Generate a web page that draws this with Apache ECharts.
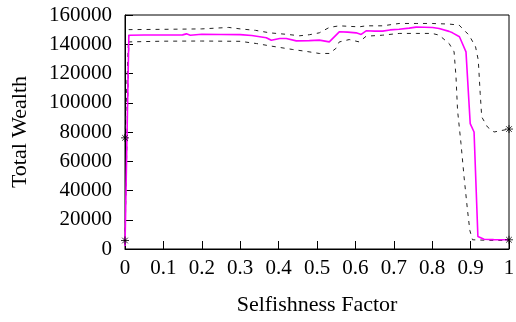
<!DOCTYPE html>
<html>
<head>
<meta charset="utf-8">
<script src="https://cdn.jsdelivr.net/npm/echarts@6/dist/echarts.min.js"></script>
<style>
  html, body { margin: 0; padding: 0; background: #fff; }
  #chart { width: 516px; height: 322px; }
</style>
</head>
<body>
<div id="chart"></div>
<script>
// mean total wealth (magenta)
const meanX = [0, 0.01, 0.05, 0.1, 0.15, 0.16, 0.17, 0.2, 0.25, 0.3, 0.33, 0.368, 0.381, 0.403, 0.42, 0.446, 0.48, 0.506, 0.532, 0.558, 0.58, 0.602, 0.615, 0.628, 0.65, 0.671, 0.69, 0.714, 0.74, 0.758, 0.78, 0.801, 0.818, 0.844, 0.853, 0.871, 0.888, 0.899, 0.909, 0.919, 0.935, 0.96, 1]
const meanY = [2000, 146200, 146300, 146300, 146400, 147100, 146200, 146800, 146700, 146600, 146000, 144500, 142700, 143900, 143900, 142300, 142500, 142800, 141600, 148500, 148300, 147800, 146700, 149200, 149000, 149000, 149800, 150300, 151000, 151700, 151600, 151500, 150800, 148800, 147800, 145100, 134800, 85700, 80000, 8600, 6700, 6400, 6300]

// upper dashed bound
const upperX = [0, 0.01, 0.1, 0.2, 0.27, 0.3, 0.34, 0.377, 0.42, 0.455, 0.48, 0.506, 0.532, 0.558, 0.58, 0.61, 0.628, 0.671, 0.714, 0.76, 0.80, 0.844, 0.87, 0.896, 0.913, 0.92, 0.925, 0.929, 0.944, 0.961, 1]
const upperY = [76000, 150000, 150200, 150500, 151500, 150500, 149500, 147800, 146800, 145800, 146500, 147800, 151500, 152600, 152300, 151900, 152600, 152600, 154200, 154200, 154200, 153800, 153100, 146200, 138200, 129100, 106300, 90300, 83400, 80000, 82000]

// lower dashed bound
const lowerX = [0, 0.01, 0.1, 0.2, 0.3, 0.342, 0.377, 0.437, 0.47, 0.506, 0.532, 0.549, 0.558, 0.584, 0.61, 0.628, 0.671, 0.714, 0.76, 0.80, 0.818, 0.844, 0.857, 0.862, 0.866, 0.875, 0.883, 0.892, 0.898, 0.905, 0.95, 1]
const lowerY = [5800, 141600, 142100, 142200, 142000, 140500, 138900, 136400, 135200, 133700, 133700, 137100, 141600, 143200, 141600, 145500, 146200, 147400, 147400, 147400, 146200, 140500, 134800, 117700, 94900, 72000, 49200, 26400, 12700, 6300, 5900, 5800]

// end point markers
const starX = [0, 0, 1, 1]
const starY = [76000, 5800, 82000, 6300]

const yTicks = [0, 20000, 40000, 60000, 80000, 100000, 120000, 140000, 160000]

const pairs = (xs, ys) => xs.map((x, i) => [x, ys[i]])

const chart = echarts.init(document.getElementById("chart"), null, { renderer: "canvas" })

const serif = "Liberation Serif"
const dashStyle = { color: "#222", width: 1, type: [4, 5] }

const option = {
  animation: false,
  grid: {
    left: 125,
    right: 7,
    top: 15,
    bottom: 73,
    containLabel: false,
    outerBoundsMode: "none",
    show: true,
    borderColor: "#000",
    borderWidth: 1,
  },
  xAxis: {
    type: "value",
    min: 0,
    max: 1,
    interval: 0.1,
    name: "Selfishness Factor",
    nameLocation: "middle",
    nameGap: 45,
    nameTextStyle: { fontFamily: serif, fontSize: 22, color: "#000" },
    axisLine: { show: true, lineStyle: { color: "#000" } },
    axisTick: { inside: true, length: 8, lineStyle: { color: "#000" } },
    axisLabel: {
      fontFamily: serif,
      fontSize: 21,
      color: "#000",
      margin: 9,
      formatter: (v) => String(Math.round(v * 10) / 10),
    },
    splitLine: { show: false },
  },
  yAxis: {
    type: "value",
    min: yTicks[0],
    max: yTicks[yTicks.length - 1],
    interval: 20000,
    name: "Total Wealth",
    nameLocation: "middle",
    nameGap: 94,
    nameTextStyle: { fontFamily: serif, fontSize: 22, color: "#000" },
    axisLine: { show: true, lineStyle: { color: "#000" } },
    axisTick: { inside: true, length: 8, lineStyle: { color: "#000" } },
    axisLabel: {
      fontFamily: serif,
      fontSize: 21,
      color: "#000",
      margin: 13,
      formatter: (v) => String(v),
    },
    splitLine: { show: false },
  },
  series: [
    {
      name: "upper",
      type: "line",
      data: pairs(upperX, upperY),
      symbol: "none",
      lineStyle: dashStyle,
    },
    {
      name: "lower",
      type: "line",
      data: pairs(lowerX, lowerY),
      symbol: "none",
      lineStyle: dashStyle,
    },
    {
      name: "mean",
      type: "line",
      data: pairs(meanX, meanY),
      symbol: "none",
      lineStyle: { color: "#ff00ff", width: 1.6 },
      z: 3,
    },
    {
      name: "ends",
      type: "scatter",
      data: pairs(starX, starY),
      symbol: "path://M5,0L5,10M0,5L10,5M1.5,1.5L8.5,8.5M1.5,8.5L8.5,1.5",
      symbolSize: 8,
      itemStyle: { color: "none", borderColor: "#000", borderWidth: 1 },
      z: 4,
    },
  ],
}

chart.setOption(option)
</script>
</body>
</html>
